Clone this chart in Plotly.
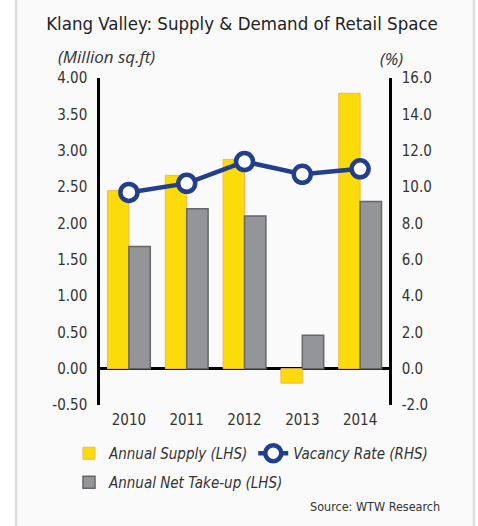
import plotly.graph_objects as go

years = ["2010", "2011", "2012", "2013", "2014"]
annual_supply = [2.45, 2.66, 2.88, -0.20, 3.79]
net_take_up = [1.68, 2.20, 2.10, 0.46, 2.30]
vacancy_rate = [9.7, 10.2, 11.4, 10.7, 11.0]

left_ticks = [-0.5, 0, 0.5, 1.0, 1.5, 2.0, 2.5, 3.0, 3.5, 4.0]
left_ticktext = ["-0.50", "0.00", "0.50", "1.00", "1.50", "2.00", "2.50", "3.00", "3.50", "4.00"]
right_ticks = [-2, 0, 2, 4, 6, 8, 10, 12, 14, 16]
right_ticktext = ["-2.0", "0.0", "2.0", "4.0", "6.0", "8.0", "10.0", "12.0", "14.0", "16.0"]

W, H = 478, 526
ML, MR, MT, MB = 100, 89, 78, 121
PW = W - ML - MR
PH = H - MT - MB

def px_x(p):
    return (p - ML) / PW

def px_y(p):
    return 1 - (p - MT) / PH

COND = "DejaVu Sans Condensed, sans-serif"
ITAL = "Open Sans, sans-serif"
TXT = "#333333"

fig = go.Figure()
fig.add_trace(go.Bar(
    x=years, y=annual_supply, name="Annual Supply (LHS)",
    marker=dict(color="#fbdb0a", line=dict(color="#f6b552", width=1)),
    legend="legend",
))
fig.add_trace(go.Bar(
    x=years, y=net_take_up, name="Annual Net Take-up (LHS)",
    marker=dict(color="#939598", line=dict(color="#666666", width=1.5)),
    legend="legend2",
))
fig.add_trace(go.Scatter(
    x=years, y=vacancy_rate, name="Vacancy Rate (RHS)", yaxis="y2",
    mode="lines+markers",
    line=dict(color="#233e8b", width=4.5),
    marker=dict(size=17, color="white", line=dict(color="#233e8b", width=4.5)),
    legend="legend",
))

fig.update_layout(
    width=W, height=H,
    margin=dict(l=ML, r=MR, t=MT, b=MB),
    paper_bgcolor="white",
    plot_bgcolor="rgba(0,0,0,0)",
    barmode="group", bargap=0.26, bargroupgap=0,
    showlegend=True,
    font=dict(family=COND, color=TXT, size=15),
    xaxis=dict(
        showgrid=False, showline=False, zeroline=False, ticks="",
        tickfont=dict(family=COND, size=15, color=TXT),
        ticklabelstandoff=4,
    ),
    yaxis=dict(
        range=[-0.5, 4.0], tickvals=left_ticks, ticktext=left_ticktext,
        showgrid=False, showline=True, linecolor="black", linewidth=2.5,
        zeroline=True, zerolinecolor="black", zerolinewidth=2.5,
        ticks="", tickfont=dict(family=COND, size=15, color=TXT),
        ticklabelstandoff=7,
    ),
    yaxis2=dict(
        range=[-2, 16], tickvals=right_ticks, ticktext=right_ticktext,
        overlaying="y", side="right",
        showgrid=False, showline=True, linecolor="black", linewidth=2.5,
        zeroline=False, ticks="",
        tickfont=dict(family=COND, size=15, color=TXT),
        ticklabelstandoff=7,
    ),
    legend=dict(
        orientation="h", x=px_x(69), y=px_y(437), xanchor="left", yanchor="top",
        bgcolor="rgba(0,0,0,0)",
        font=dict(family=COND, size=15, color=TXT, style="italic"),
        itemwidth=30, tracegroupgap=0,
    ),
    legend2=dict(
        orientation="h", x=px_x(69), y=px_y(466), xanchor="left", yanchor="top",
        bgcolor="rgba(0,0,0,0)",
        font=dict(family=COND, size=15, color=TXT, style="italic"),
        itemwidth=30,
    ),
    title=dict(
        text="Klang Valley: Supply & Demand of Retail Space",
        x=px_x(242), xref="paper", xanchor="center",
        y=1 - 24 / H, yref="container", yanchor="middle",
        font=dict(family=COND, size=18.5, color="#222222"),
    ),
)

# card background
fig.add_shape(type="rect", xref="paper", yref="paper",
              x0=px_x(16), x1=px_x(474), y0=px_y(-10), y1=px_y(540),
              fillcolor="#fafafa", line=dict(color="#dddddd", width=2.5),
              layer="below")

fig.add_annotation(text="(Million sq.ft)", xref="paper", yref="paper",
                   x=px_x(106), y=px_y(57), showarrow=False,
                   xanchor="center", yanchor="middle",
                   font=dict(family=ITAL, size=17, color=TXT, style="italic"))
fig.add_annotation(text="(%)", xref="paper", yref="paper",
                   x=px_x(391), y=px_y(58), showarrow=False,
                   xanchor="center", yanchor="middle",
                   font=dict(family=ITAL, size=17, color=TXT, style="italic"))
fig.add_annotation(text="Source: WTW Research", xref="paper", yref="paper",
                   x=px_x(442), y=px_y(507), showarrow=False,
                   xanchor="right", yanchor="middle",
                   font=dict(family=COND, size=12.5, color=TXT))

fig.write_html("out.html",
               config={"displayModeBar": False},
               post_script="document.body.style.margin='0';document.body.style.padding='0';")
